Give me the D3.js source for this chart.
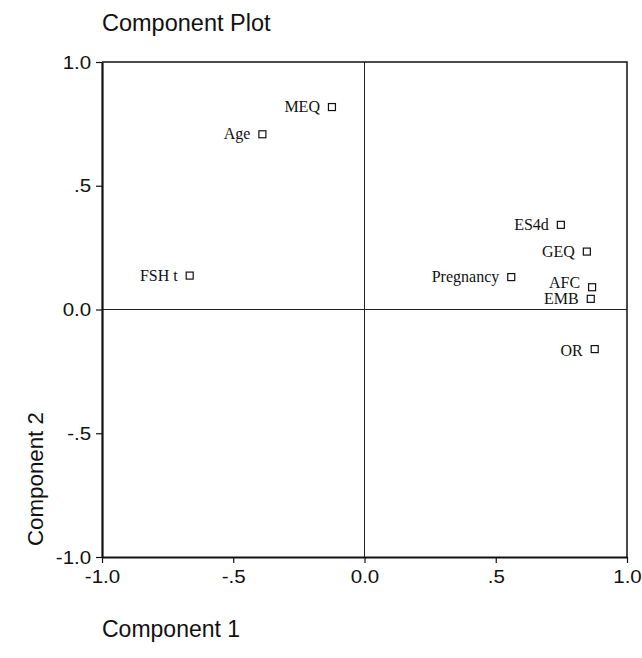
<!DOCTYPE html>
<html>
<head>
<meta charset="utf-8">
<script src="https://cdn.jsdelivr.net/npm/d3@7"></script>
<style>
  body { margin: 0; background: #fff; }
  svg { display: block; }
</style>
</head>
<body>
<div id="chart"></div>
<script>
// component loadings
let names = ["MEQ", "Age", "FSH t", "ES4d", "GEQ", "Pregnancy", "AFC", "EMB", "OR"]
let comp1 = [-0.124, -0.389, -0.666, 0.748, 0.847, 0.559, 0.867, 0.862, 0.877]
let comp2 = [0.818, 0.708, 0.137, 0.342, 0.234, 0.131, 0.090, 0.043, -0.160]
let tickValues = [-1, -0.5, 0, 0.5, 1]
let tickLabels = ["-1.0", "-.5", "0.0", ".5", "1.0"]

let width = 642, height = 658
let margin = ({top: 62, right: 15, bottom: 101, left: 102})
let tickStretch = 1.08

let svg = d3.select("#chart").append("svg")
    .attr("width", width)
    .attr("height", height)

let x = d3.scaleLinear()
    .domain([-1, 1])
    .range([margin.left, width - margin.right])

let y = d3.scaleLinear()
    .domain([-1, 1])
    .range([height - margin.bottom, margin.top])

let sans = "'Liberation Sans', Arial, Helvetica, sans-serif"
let serif = "'Liberation Serif', 'Times New Roman', serif"
let fmt = v => tickLabels[tickValues.indexOf(v)]

// reference lines through the origin
svg.append("line")
    .attr("x1", x(-1)).attr("x2", x(1))
    .attr("y1", y(0)).attr("y2", y(0))
    .attr("stroke", "#222").attr("stroke-width", 1)
svg.append("line")
    .attr("x1", x(0)).attr("x2", x(0))
    .attr("y1", y(-1)).attr("y2", y(1))
    .attr("stroke", "#222").attr("stroke-width", 1)

// top and right frame
svg.append("path")
    .attr("d", `M${x(-1)},${y(1)}H${x(1)}V${y(-1)}`)
    .attr("fill", "none")
    .attr("stroke", "#111")
    .attr("stroke-width", 1.5)

let xAxis = svg.append("g")
    .attr("transform", `translate(0,${y(-1)})`)
    .call(d3.axisBottom(x)
        .tickValues(tickValues)
        .tickFormat(fmt)
        .tickSize(6)
        .tickSizeOuter(0)
        .tickPadding(7))
xAxis.select(".domain").attr("stroke-width", 2.2).attr("stroke", "#111")
xAxis.selectAll(".tick line").attr("stroke", "#111").attr("stroke-width", 1.2)
xAxis.selectAll(".tick text")
    .attr("font-family", sans)
    .attr("font-size", 19)
    .attr("fill", "#111")
    .attr("transform", `scale(${tickStretch},1)`)

let yAxis = svg.append("g")
    .attr("transform", `translate(${x(-1)},0)`)
    .call(d3.axisLeft(y)
        .tickValues(tickValues)
        .tickFormat(fmt)
        .tickSize(6)
        .tickSizeOuter(0)
        .tickPadding(4))
yAxis.select(".domain").attr("stroke-width", 2.2).attr("stroke", "#111")
yAxis.selectAll(".tick line").attr("stroke", "#111").attr("stroke-width", 1.2)
yAxis.selectAll(".tick text")
    .attr("font-family", sans)
    .attr("font-size", 19)
    .attr("fill", "#111")
    .attr("transform", `scale(${tickStretch},1)`)

// points
let pts = names.map((n, i) => ({name: n, c1: comp1[i], c2: comp2[i]}))
let nudge = {"AFC": -4, "OR": 2}

svg.append("g")
    .selectAll("rect")
    .data(pts)
    .join("rect")
    .attr("x", d => x(d.c1) - 3.5)
    .attr("y", d => y(d.c2) - 3.5)
    .attr("width", 7)
    .attr("height", 7)
    .attr("fill", "#fff")
    .attr("stroke", "#111")
    .attr("stroke-width", 1.2)

svg.append("g")
    .selectAll("text")
    .data(pts)
    .join("text")
    .attr("x", d => x(d.c1) - 12)
    .attr("y", d => y(d.c2) + 5 + (nudge[d.name] || 0))
    .attr("text-anchor", "end")
    .attr("font-family", serif)
    .attr("font-size", 16)
    .attr("fill", "#111")
    .text(d => d.name)

// titles
svg.append("text")
    .attr("x", margin.left)
    .attr("y", 31)
    .attr("font-family", sans)
    .attr("font-size", 23.5)
    .attr("fill", "#111")
    .text("Component Plot")

svg.append("text")
    .attr("x", margin.left)
    .attr("y", 637)
    .attr("font-family", sans)
    .attr("font-size", 23)
    .attr("fill", "#111")
    .text("Component 1")

svg.append("text")
    .attr("transform", "translate(43,546) rotate(-90)")
    .attr("font-family", sans)
    .attr("font-size", 22.3)
    .attr("fill", "#111")
    .text("Component 2")
</script>
</body>
</html>
